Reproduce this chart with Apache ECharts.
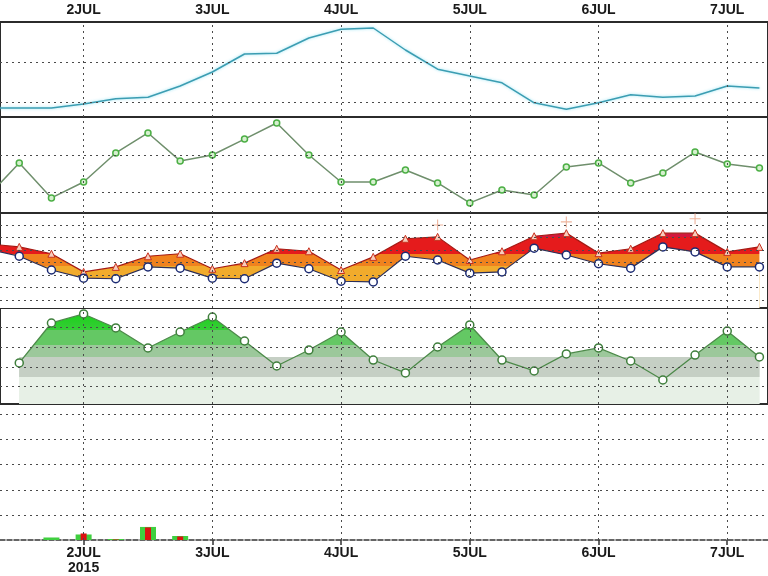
<!DOCTYPE html>
<html>
<head>
<meta charset="utf-8">
<script src="https://cdn.jsdelivr.net/npm/echarts@6/dist/echarts.min.js"></script>
<style>html,body{margin:0;padding:0;background:#fff}#c{width:768px;height:576px}</style>
</head>
<body>
<div id="c"></div>
<script>
// ---- data (forecast hours from 1 JUL 00Z) ----
const hours = [6,12,18,24,30,36,42,48,54,60,66,72,78,84,90,96,102,108,114,120,126,132,138,144,150];
const pressure = [1009.25,1009.25,1009.25,1009.75,1010.4,1010.6,1012,1013.75,1016,1016.1,1018,1019.1,1019.25,1016.5,1014.1,1013.25,1012.4,1009.9,1009.1,1009.9,1010.9,1010.6,1010.75,1012,1011.75];
const wind = [17.3,35.7,16.8,25.4,41.1,51.9,36.8,40,48.6,57.3,40,25.4,25.4,31.9,24.9,14.1,21.1,18.4,33.5,35.7,24.9,30.3,41.6,35.1,33];
const tempHigh = [25.0,24.5,23.4,20.5,21.3,23.0,23.4,21.0,21.9,24.2,23.8,20.8,22.9,25.8,26.1,22.4,23.8,26.2,26.7,23.5,24.2,26.7,26.7,23.7,24.5];
const tempLow = [24.2,23.0,20.8,19.5,19.4,21.3,21.1,19.5,19.4,21.9,21.0,19.0,18.9,23.0,22.4,20.3,20.5,24.3,23.2,21.8,21.1,24.5,23.7,21.3,21.3];
const maxHours = [90,114,138];
const tempMax = [28.0,28.5,29.0];
const humidity = [null,43.9,84.7,93.9,79.6,59.2,75.5,90.8,66.3,40.8,57.1,75.5,46.9,33.7,60.2,82.7,46.9,35.7,53.1,59.2,45.9,26.5,52.0,76.5,50.0];
const rainHours = [18,24,30,36,42];
const rainTotal = [0.5,1.1,0.2,2.6,0.8];
const rainConv = [0,1.3,0.1,2.5,0.7];
const dayTicks = [24,48,72,96,120,144];
const dayLabels = ['2JUL','3JUL','4JUL','5JUL','6JUL','7JUL'];
const yearLabel = '2015';
const pressGrid = [1010,1015];
const windGrid = [20,40];
const tempGrid = [16,18,20,22,24,26,28];
const rhGrid = [20,40,60,80];
const rainGrid = [5,10,15,20,25];

// ---- layout ----
const X_MIN = 8.41, X_MAX = 151.6;
const panels = [
  {top:22, height:95, min:1008.125, max:1020},
  {top:117, height:96, min:8.65, max:60.54},
  {top:213, height:95, min:14.72, max:29.92},
  {top:308, height:96, min:2, max:100},
  {top:404, height:144, min:0, max:27.07}
];
const pair = (xs, ys) => xs.map((x,i) => [x, ys[i]]);
const FONT = 'Liberation Sans';

const chart = echarts.init(document.getElementById('c'), null, {renderer:'canvas'});

function gridLines(ys){
  return {
    silent:true, symbol:['none','none'], label:{show:false}, animation:false,
    emphasis:{disabled:true},
    lineStyle:{color:'#4a4a4a', type:[2,4], width:1},
    data:[...dayTicks.map(v=>({xAxis:v})), ...ys.map(v=>({yAxis:v}))]
  };
}
function xAxisCfg(gi, extra){
  return Object.assign({type:'value', gridIndex:gi, min:X_MIN, max:X_MAX,
    axisLine:{show:false}, axisTick:{show:false}, axisLabel:{show:false}, splitLine:{show:false}}, extra||{});
}
const G = echarts.graphic.LinearGradient;
const tempGrad = new G(0, 213, 0, 308, [
  {offset:0, color:'#d3183e'},{offset:0.253, color:'#d3183e'},
  {offset:0.253, color:'#e51b1c'},{offset:0.432, color:'#e51b1c'},
  {offset:0.432, color:'#f0821e'},{offset:0.56, color:'#f0821e'},
  {offset:0.56, color:'#f1ab2c'},{offset:1, color:'#f1ab2c'}
], true);
const rhGrad = new G(0, 308, 0, 404, [
  {offset:0, color:'#0fd40f'},{offset:0.229, color:'#38cc38'},
  {offset:0.229, color:'#64c864'},{offset:0.385, color:'#64c864'},
  {offset:0.385, color:'#9cc89b'},{offset:0.51, color:'#9cc89b'},
  {offset:0.51, color:'#c5cfc4'},{offset:0.72, color:'#c5cfc4'},
  {offset:0.72, color:'#e7f0e6'},{offset:1, color:'#e7f0e6'}
], true);

const option = {
  animation:false,
  backgroundColor:'#fff',
  grid: panels.map((p,i)=>({left:-5, right:-5, top:p.top, height:p.height,
    show: i<4, borderColor:'#2b2b2b', borderWidth:2, backgroundColor:'transparent'})),
  xAxis: [
    xAxisCfg(0, {position:'top', axisLabel:{show:true, customValues:dayTicks, margin:5,
      fontFamily:FONT, fontSize:14, fontWeight:'bold', color:'#1a1a1a',
      formatter:v=>dayLabels[dayTicks.indexOf(v)]}}),
    xAxisCfg(1), xAxisCfg(2), xAxisCfg(3),
    xAxisCfg(4, {position:'bottom',
      axisLine:{show:true, onZero:false, lineStyle:{color:'#333', width:1.5, type:[5,2]}},
      axisTick:{show:true, customValues:dayTicks, length:5, lineStyle:{color:'#333', width:1.5}},
      axisLabel:{show:true, customValues:dayTicks, margin:6, fontFamily:FONT, fontSize:14,
        fontWeight:'bold', color:'#1a1a1a', lineHeight:15,
        formatter:v=>{const i=dayTicks.indexOf(v); return i===0 ? dayLabels[i]+'\n'+yearLabel : dayLabels[i];}}}),
    xAxisCfg(4)
  ],
  yAxis: panels.map((p,i)=>({type:'value', gridIndex:i, min:p.min, max:p.max, show:false, splitLine:{show:false}})),
  series: [
    {type:'line', xAxisIndex:0, yAxisIndex:0, data:pair(hours, pressure), symbol:'none',
     lineStyle:{color:'#3c9db2', width:1.5, shadowColor:'rgba(120,220,240,0.8)', shadowBlur:3},
     markLine:gridLines(pressGrid)},
    {type:'line', xAxisIndex:1, yAxisIndex:1, data:pair(hours, wind), symbol:'circle', symbolSize:6,
     lineStyle:{color:'#6f8f6c', width:1.5},
     itemStyle:{color:'#d6f0cf', borderColor:'#4caf45', borderWidth:1.5},
     markLine:gridLines(windGrid)},
    // upper temperature: area filled down, coloured by level
    {type:'line', xAxisIndex:2, yAxisIndex:2, data:pair(hours, tempHigh),
     symbol:'triangle', symbolSize:7, z:2,
     lineStyle:{color:'#a51a14', width:1.2},
     areaStyle:{color:tempGrad, opacity:1, origin:'start'},
     itemStyle:{color:'#f7cdbd', borderColor:'#c8301e', borderWidth:1}},
    // lower temperature: white fill below masks the band
    {type:'line', xAxisIndex:2, yAxisIndex:2, data:pair(hours, tempLow),
     symbol:'circle', symbolSize:8, z:3,
     lineStyle:{color:'#2b2f5a', width:1.2},
     areaStyle:{color:'#ffffff', opacity:1, origin:'start'},
     itemStyle:{color:'#ffffff', borderColor:'#1b2a72', borderWidth:1.5},
     markLine:gridLines(tempGrid)},
    {type:'scatter', xAxisIndex:2, yAxisIndex:2, data:pair(maxHours, tempMax), z:4,
     symbol:'path://M4.5,0h1v4.5h4.5v1h-4.5v4.5h-1v-4.5h-4.5v-1h4.5z', symbolSize:11,
     itemStyle:{color:'#e9a184'}},
    {type:'line', xAxisIndex:3, yAxisIndex:3, data:hours.slice(1).map(h=>[h,50]), symbol:'none',
     lineStyle:{width:0}, areaStyle:{color:rhGrad, opacity:1, origin:'start'}, silent:true},
    {type:'line', xAxisIndex:3, yAxisIndex:3, data:pair(hours, humidity), symbol:'circle', symbolSize:8,
     connectNulls:false,
     lineStyle:{color:'#4d8a4a', width:1.3},
     areaStyle:{color:rhGrad, opacity:1, origin:'start'},
     itemStyle:{color:'#ffffff', borderColor:'#3f7f3c', borderWidth:1.5},
     markLine:gridLines(rhGrid)},
    {type:'bar', xAxisIndex:4, yAxisIndex:4, data:pair(rainHours, rainTotal), barWidth:16,
     itemStyle:{color:'#3fcf3f'}, markLine:gridLines(rainGrid)},
    {type:'bar', xAxisIndex:5, yAxisIndex:4, data:pair(rainHours, rainConv), barWidth:6,
     itemStyle:{color:'#dd1111'}}
  ]
};
chart.setOption(option);
</script>
</body>
</html>
